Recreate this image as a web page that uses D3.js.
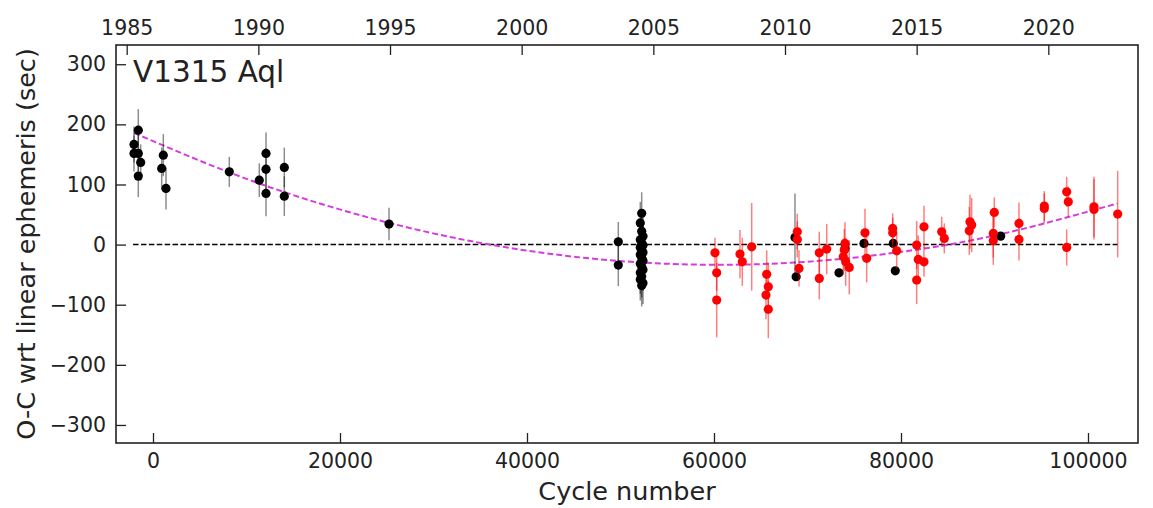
<!DOCTYPE html>
<html>
<head>
<meta charset="utf-8">
<script src="https://cdn.jsdelivr.net/npm/d3@7/dist/d3.min.js"></script>
<style>
  html, body { margin: 0; padding: 0; background: #fff; }
  svg text { font-family: "DejaVu Sans", sans-serif; fill: #222; }
</style>
</head>
<body>
<svg id="chart" width="1153" height="508"></svg>
<script>
// Timing measurements, O-C in seconds against the linear ephemeris.
// Each row: [cycle number, O-C (s), error (s)]
const blackTimings = [
  [-2032, 166.6, 30], [-2032, 151.6, 30], [-1572, 190.4, 35], [-1572, 151.6, 30],
  [-1315, 136.7, 30], [-1572, 113.9, 35], [1102, 148.8, 35], [930, 126.7, 35],
  [1390, 93.4, 35], [8161, 121.0, 25], [11369, 107.2, 28], [12086, 151.6, 35],
  [12086, 125.5, 35], [12086, 85.1, 38], [14043, 128.3, 33], [14043, 80.6, 33],
  [25241, 34.1, 27], [49765, 4.7, 33], [49765, -34.1, 35],
  [52267, 52, 35], [52117, 36, 35], [52267, 22, 35], [52407, 14, 35],
  [52117, 8, 35], [52267, 3, 35], [52407, -1, 35], [52117, -5, 35],
  [52267, -9, 35], [52407, -13, 35], [52117, -17, 35], [52267, -22, 35],
  [52407, -27, 35], [52117, -32, 35], [52267, -37, 35], [52407, -42, 35],
  [52117, -47, 35], [52267, -53, 35], [52117, -58, 35], [52407, -64, 35],
  [52267, -68, 35],
  [68663, 12.0, 73], [68785, -53.5, 6], [73368, -46.9, 4], [74010, -6.3, 5],
  [76042, 2.0, 5], [79176, 2.0, 5], [79389, -43.6, 5], [90663, 14.1, 5]
];

const redTimings = [
  [60106, -13.6, 25], [60289, -46.9, 30], [60289, -92.3, 62], [62780, -15.8, 40],
  [63027, -28.6, 40], [64032, -3.7, 73], [65636, -49.5, 40], [65808, -70.2, 40],
  [65561, -84.0, 40], [65808, -107.7, 48], [68909, 21.3, 30], [68909, 8.6, 30],
  [69091, -39.6, 30], [71262, -13.6, 35], [71262, -56.2, 35], [72054, -7.5, 42],
  [74010, 2.0, 35], [73935, -9.1, 35], [73828, -20.3, 30], [74084, -28.6, 40],
  [74469, -37.9, 45], [76149, 19.6, 40], [76331, -22.9, 40], [79112, 26.9, 25],
  [79112, 19.6, 25], [79539, -10.3, 30], [81678, -0.8, 40], [81849, -24.6, 40],
  [81678, -59.0, 40], [82459, 29.6, 35], [82459, -28.6, 25], [84352, 21.3, 25],
  [84630, 10.3, 25], [87378, 37.9, 45], [87560, 32.4, 45], [87304, 22.9, 40],
  [89978, 53.5, 25], [89870, 18.6, 40], [89870, 6.3, 40], [92619, 35.2, 35],
  [92619, 8.6, 35], [95325, 64.0, 25], [95325, 60.2, 25], [97721, 87.8, 25],
  [97892, 71.2, 25], [97721, -4.7, 30], [100640, 62.8, 50], [100640, 58.5, 50],
  [103175, 50.7, 72]
];

// Quadratic ephemeris curve, sampled along the cycle range
const fitCycles = [-2029, 8428, 18781, 29134, 39487, 49840, 60192, 70545, 80898, 91251, 103157];
const fitOC     = [185.7, 118.5, 64.0, 21.6, -8.8, -27.2, -33.6, -27.9, -10.2, 19.5, 68.5];

// Zero reference line extent (cycles)
const zeroLine = [-2132, 103157];

// Tick values
const cycleTicks = [0, 20000, 40000, 60000, 80000, 100000];
const yearTicks  = [1985, 1990, 1995, 2000, 2005, 2010, 2015, 2020];
const ocTicks    = [-300, -200, -100, 0, 100, 200, 300];

const starName = "V1315 Aql";

const svg = d3.select("#chart");
const L = 116, R = 1138, T = 45, B = 443;

const x = d3.scaleLinear().domain([-3957, 105348]).range([L, R]);
const xYear = d3.scaleLinear().domain([1984.594, 2023.406]).range([L, R]);
const y = d3.scaleLinear().domain([-330, 332]).range([B, T]);

const plot = svg.append("g");

// zero line
plot.append("line")
  .attr("x1", x(zeroLine[0])).attr("x2", x(zeroLine[1]))
  .attr("y1", y(0)).attr("y2", y(0))
  .attr("stroke", "#000").attr("stroke-width", 1.5)
  .attr("stroke-dasharray", "5.5,2.4");

// fitted curve
const fitPts = fitCycles.map((c, i) => [c, fitOC[i]]);
plot.append("path")
  .datum(fitPts)
  .attr("d", d3.line().x(d => x(d[0])).y(d => y(d[1])).curve(d3.curveNatural))
  .attr("fill", "none")
  .attr("stroke", "#d53ce0").attr("stroke-width", 2)
  .attr("stroke-dasharray", "6,3");

function drawSeries(data, barColor, barOpacity, dotColor) {
  const g = plot.append("g");
  g.selectAll("line.err").data(data).join("line")
    .attr("class", "err")
    .attr("x1", d => x(d[0])).attr("x2", d => x(d[0]))
    .attr("y1", d => y(d[1] - d[2])).attr("y2", d => y(d[1] + d[2]))
    .attr("stroke", barColor).attr("stroke-opacity", barOpacity)
    .attr("stroke-width", 1.5);
  g.selectAll("circle").data(data).join("circle")
    .attr("cx", d => x(d[0])).attr("cy", d => y(d[1]))
    .attr("r", 4.6).attr("fill", dotColor);
}

drawSeries(blackTimings, "#000", 0.45, "#000");
drawSeries(redTimings, "#ff0000", 0.5, "#ff0000");

// axes with inward ticks
const fontTick = "20.5px";
const gL = svg.append("g").attr("transform", `translate(${L},0)`)
  .call(d3.axisLeft(y).tickValues(ocTicks).tickSizeInner(-10).tickSizeOuter(0).tickPadding(10));
const gB = svg.append("g").attr("transform", `translate(0,${B})`)
  .call(d3.axisBottom(x).tickValues(cycleTicks).tickFormat(d3.format("d")).tickSizeInner(-10).tickSizeOuter(0).tickPadding(10));
const gT = svg.append("g").attr("transform", `translate(0,${T})`)
  .call(d3.axisTop(xYear).tickValues(yearTicks).tickFormat(d3.format("d")).tickSizeInner(-10).tickSizeOuter(0).tickPadding(10));

[gL, gB, gT].forEach(g => {
  g.select(".domain").remove();
  g.selectAll(".tick line").attr("stroke", "#222").attr("stroke-width", 1.3);
  g.selectAll(".tick text").style("font-size", fontTick).attr("fill", "#222")
    .style("font-family", "'DejaVu Sans', sans-serif");
});

// frame
svg.append("rect")
  .attr("x", L).attr("y", T).attr("width", R - L).attr("height", B - T)
  .attr("fill", "none").attr("stroke", "#222").attr("stroke-width", 1.6);

// labels
svg.append("text")
  .attr("x", (L + R) / 2).attr("y", 500)
  .attr("text-anchor", "middle")
  .style("font-size", "25.5px")
  .text("Cycle number");

svg.append("text")
  .attr("transform", `translate(35,${(T + B) / 2}) rotate(-90)`)
  .attr("text-anchor", "middle")
  .style("font-size", "25.5px")
  .text("O-C wrt linear ephemeris (sec)");

svg.append("text")
  .attr("x", 133).attr("y", 82)
  .style("font-size", "29.5px")
  .text(starName);
</script>
</body>
</html>
